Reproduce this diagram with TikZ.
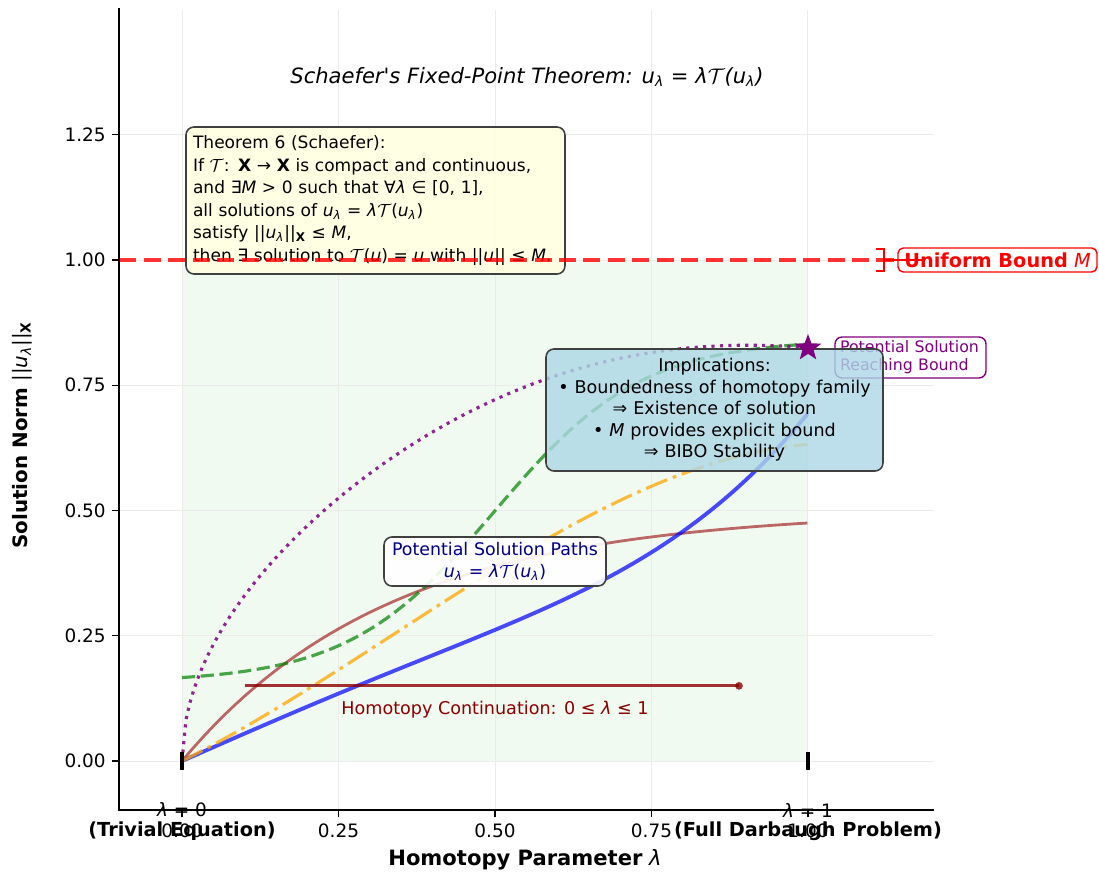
\documentclass[tikz,border=0pt]{standalone}
\usepackage{fontspec}
\setmainfont{DejaVu Sans}
\usetikzlibrary{shapes.geometric}
\definecolor{mpurple}{HTML}{800080}
\definecolor{mgreen}{HTML}{008000}
\definecolor{morange}{HTML}{FFA500}
\definecolor{mbrown}{HTML}{A52A2A}
\definecolor{mdarkred}{HTML}{8B0000}
\definecolor{mnavy}{HTML}{00008B}
\definecolor{lyellow}{HTML}{FFFFE0}
\definecolor{lblue}{HTML}{ADD8E6}
\definecolor{bgreen}{RGB}{241,250,241}
\newcommand{\lam}{\textit{λ}}
\newcommand{\ul}{\textit{u}\textsubscript{\textit{λ}}}
\newcommand{\cT}{\ensuremath{\mathcal{T}}}
\newcommand{\eqn}{\ul{} = \lam\cT(\ul)}
\begin{document}
\begin{tikzpicture}[x=0.02cm,y=-0.02cm,
  gridl/.style={line width=0.5pt, color=black!8},
  spine/.style={line width=1.4pt, black, line cap=rect},
  tickm/.style={line width=0.7pt, black},
  ticklab/.style={font=\fontsize{10.5}{12.6}\selectfont, inner sep=0pt},
  boldlab/.style={font=\fontsize{11}{13}\selectfont\bfseries, inner sep=0pt},
  cblue/.style={line width=2.2pt, blue, opacity=0.7},
  cgreen/.style={line width=1.8pt, mgreen, opacity=0.7, dash pattern=on 7.5pt off 3.2pt},
  cpurple/.style={line width=1.8pt, mpurple, opacity=0.85, dash pattern=on 1.8pt off 3pt},
  corange/.style={line width=1.8pt, morange, opacity=0.75, dash pattern=on 13pt off 3.4pt on 2.1pt off 3.4pt},
  cbrown/.style={line width=1.6pt, mbrown, opacity=0.7},
  bound/.style={line width=2.6pt, red, opacity=0.8, dash pattern=on 9.7pt off 4.2pt},
  rbox/.style={rounded corners=4.5pt, line width=0.9pt, draw=black!75, inner ysep=0pt, text opacity=1},
  boxtext/.style={font=\fontsize{10}{12.7}\selectfont}
]
\useasboundingbox (0,0) rectangle (1099,875);
\fill[white] (0,0) rectangle (1099,875);

% ---------- data area ----------
\begin{scope}[shift={(182,761)}, x=12.52cm, y=10.02cm]
  \fill[bgreen] (0,0) rectangle (1,1);
  \foreach \gx in {0,0.25,0.5,0.75,1} \draw[gridl] (\gx,-0.1) -- (\gx,1.5);
  \foreach \gy in {0,0.25,0.5,0.75,1,1.25} \draw[gridl] (-0.1,\gy) -- (1.2,\gy);

  \draw[cbrown] plot[domain=0:1, samples=60] (\x,{0.5*(1-exp(-3*\x))});
  \draw[cgreen] plot[domain=0:1, samples=80] (\x,{0.157+0.685/(1+exp(-8.5*(\x-0.5)))});
  \draw[cpurple] plot[domain=0:1, samples=160] (\x,{0.825*sqrt(sin(90*\x))*(1+0.04*sin(180*\x))});
  \draw[cblue] plot[domain=0:1, samples=80] (\x,{0.694*\x*\x*\x+0.175*sin(180*\x)});
  \draw[corange] plot[domain=0:1, samples=80] (\x,{0.625*\x+0.546*\x*\x-0.539*\x*\x*\x});

  \coordinate (h0) at (0.1,0.15);
  \coordinate (h1) at (0.89,0.15);
  \draw[mdarkred, opacity=0.8, line width=1.7pt] (h0) -- (h1);
  \fill[mdarkred, opacity=0.8] (h1) circle (2.2pt);
\end{scope}

\node[font=\fontsize{10}{12}\selectfont, text=mdarkred, inner sep=0pt] (homlab) at (495,710) {Homotopy Continuation: 0 ≤ \lam{} ≤ 1};

% theorem box
\node[rbox, fill=lyellow, fill opacity=0.9, text width=7.3cm, align=left, inner xsep=0.14cm, minimum height=2.94cm, font=\fontsize{9.7}{12.8}\selectfont] (thm) at (375.5,200.5)
 {Theorem 6 (Schaefer):\\
  If \cT: \textbf{X} → \textbf{X} is compact and continuous,\\
  and ∃\textit{M} > 0 such that ∀\lam{} ∈ [0, 1],\\
  all solutions of \eqn\\
  satisfy ||\ul||\textsubscript{\textbf{X}} ≤ \textit{M},\\
  then ∃ solution to \cT(\textit{u}) = \textit{u} with ||\textit{u}|| ≤ \textit{M}.};

% uniform bound line
\begin{scope}[shift={(182,761)}, x=12.52cm, y=10.02cm]
  \coordinate (b0) at (-0.1,1);
  \coordinate (b1) at (1.2,1);
\end{scope}
\draw[bound] (b0) -- (b1);

\node[draw=red, fill=white, text=red, rounded corners=3pt, line width=0.8pt, inner sep=0pt, minimum width=3.98cm, minimum height=0.48cm, font=\fontsize{11}{13}\selectfont] (ub) at (997.5,260) {\textbf{Uniform Bound} \textit{M}};
\coordinate (bk) at (884,260);
\coordinate (bkend) at (925,260);
\draw[red, line width=1.2pt] (876,249) -- (884,249) -- (884,271) -- (876,271);
\draw[red, line width=1.2pt] (bk) -- (bkend);

% purple label
\node[draw=mpurple, fill=white, fill opacity=0.8, text opacity=1, text=mpurple, rounded corners=4pt, line width=0.8pt, inner xsep=0.1cm, inner ysep=0pt, text width=2.82cm, align=left, minimum height=0.82cm, font=\fontsize{9}{10.3}\selectfont] (plab) at (910.5,357.5) {Potential Solution\\ Reaching Bound};

% implications
\node[rbox, fill=lblue, fill opacity=0.8, text width=6.38cm, align=center, inner xsep=0.18cm, minimum height=2.44cm, font=\fontsize{10}{12.2}\selectfont] (impl) at (714.5,410)
 {Implications:\\
  • Boundedness of homotopy family\\
  ⇒ Existence of solution\\
  • \textit{M} provides explicit bound\\
  ⇒ BIBO Stability};

% paths box
\node[rbox, fill=white, fill opacity=0.9, text=mnavy, text width=4.3cm, align=center, inner xsep=0.07cm, minimum height=0.98cm, font=\fontsize{9.9}{12.5}\selectfont] (paths) at (495,561.5)
 {Potential Solution Paths\\ \eqn};

% star
\node[star, star points=5, star point ratio=2.4, fill=mpurple, minimum size=0.56cm, inner sep=0pt] (star) at (808,348) {};

% black markers at lambda = 0, 1
\draw[black, line width=2.3pt] (182,752) -- (182,770);
\draw[black, line width=2.3pt] (808,752) -- (808,770);

% title
\node[font=\fontsize{12}{14}\selectfont\itshape, inner sep=0pt] (title) at (527,77) {Schaefer\textquotesingle s Fixed-Point Theorem: \eqn};

% tick labels
\foreach \py/\lab in {761/0.00,635.75/0.25,510.5/0.50,385.25/0.75,260/1.00,134.75/1.25}
  \node[ticklab, anchor=east] at (106,\py) {\lab};
\foreach \px/\lab in {182/0.00,338.5/0.25,495/0.50,651.5/0.75,808/1.00}
  \node[ticklab] at (\px,831) {\lab};
\foreach \py in {761,635.75,510.5,385.25,260,134.75} \draw[tickm] (112,\py) -- (119,\py);
\foreach \px in {182,338.5,495,651.5,808} \draw[tickm] (\px,810) -- (\px,817);

% lambda labels
\node[ticklab] (l0) at (182,810) {\lam{} = 0};
\node[boldlab] (l0b) at (182,831) {(Trivial Equation)};
\node[ticklab] (l1) at (808,810) {\lam{} = 1};
\node[boldlab] (l1b) at (808,831) {(Full Darbaugh Problem)};

% axis labels
\node[font=\fontsize{12}{14}\selectfont, inner sep=0pt] (xlab) at (525,860) {\textbf{Homotopy Parameter} \lam};
\node[font=\fontsize{11.3}{13}\selectfont, inner sep=0pt, rotate=90] (ylab) at (22,435) {\textbf{Solution Norm} ||\ul||\textsubscript{\textbf{X}}};

% spines
\draw[spine] (119,9.5) -- (119,810) -- (933,810);
\end{tikzpicture}
\end{document}
